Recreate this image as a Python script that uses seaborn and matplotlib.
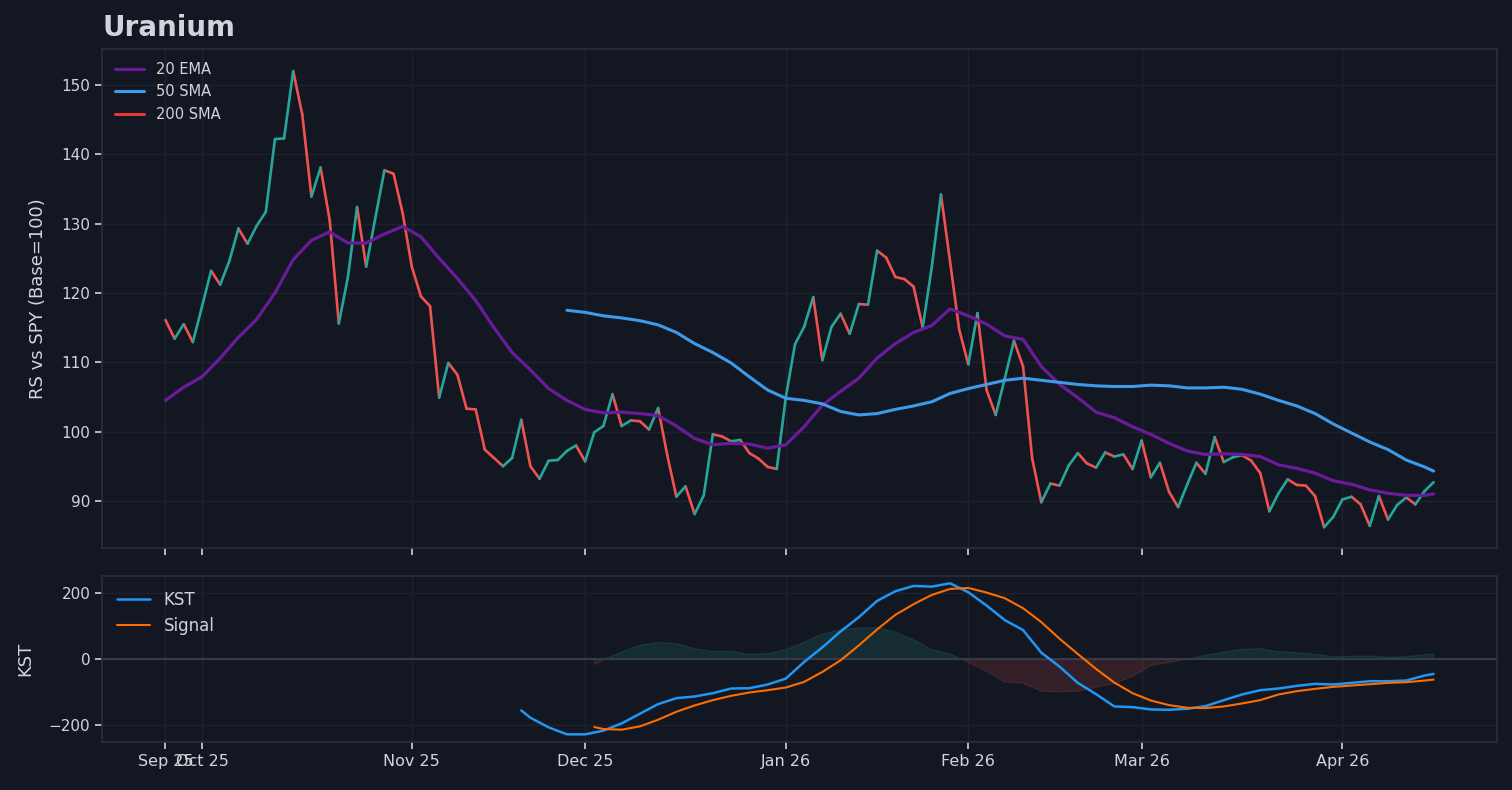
import numpy as np
import pandas as pd
import seaborn as sns
import matplotlib.pyplot as plt

# relative strength vs SPY, one value per trading day (index 0 = Sep 25 2025)
rs = [116.1, 113.4, 115.5, 112.9, 118.0, 123.2, 121.2, 124.6, 129.3, 127.1,
      129.7, 131.7, 142.2, 142.3, 152.0, 145.7, 133.9, 138.1, 130.5, 115.6,
      122.3, 132.4, 123.8, 130.8, 137.7, 137.2, 131.5, 123.8, 119.5, 118.1,
      104.9, 109.9, 108.2, 103.3, 103.2, 97.4, 96.2, 95.0, 96.2, 101.7,
      95.0, 93.2, 95.8, 95.9, 97.2, 98.0, 95.7, 99.9, 100.8, 105.4,
      100.8, 101.6, 101.5, 100.3, 103.4, 96.6, 90.6, 92.1, 88.1, 90.8,
      99.6, 99.3, 98.6, 98.8, 96.9, 96.1, 94.9, 94.6, 105.0, 112.6,
      115.1, 119.4, 110.3, 115.1, 117.0, 114.1, 118.4, 118.3, 126.1, 125.1,
      122.3, 122.0, 120.9, 115.0, 123.8, 134.2, 124.5, 114.7, 109.7, 117.1,
      106.0, 102.4, 107.7, 113.1, 109.4, 96.1, 89.8, 92.5, 92.2, 95.1,
      96.9, 95.4, 94.8, 97.0, 96.4, 96.7, 94.6, 98.7, 93.4, 95.5,
      91.3, 89.1, 92.4, 95.5, 93.9, 99.2, 95.6, 96.3, 96.6, 95.8,
      94.0, 88.5, 91.1, 93.1, 92.3, 92.2, 90.7, 86.2, 87.7, 90.2,
      90.6, 89.5, 86.4, 90.7, 87.3, 89.4, 90.5, 89.5, 91.4, 92.7]

ema_idx = list(range(0, 139, 2)) + [139]
ema20 = [104.5, 106.4, 107.9, 110.6, 113.6, 116.2, 120.0, 124.8, 127.6, 128.8,
         127.2, 127.2, 128.5, 129.6, 128.1, 125.0, 122.1, 118.9, 115.0, 111.4,
         108.9, 106.2, 104.5, 103.2, 102.7, 102.8, 102.6, 102.3, 100.8, 99.0,
         98.1, 98.3, 98.2, 97.6, 98.1, 100.7, 103.8, 105.8, 107.7, 110.6,
         112.7, 114.3, 115.3, 117.7, 116.7, 115.5, 113.8, 113.3, 109.4, 106.8,
         104.9, 102.8, 102.0, 100.7, 99.6, 98.3, 97.2, 96.7, 96.8, 96.7,
         96.4, 95.2, 94.7, 94.0, 92.9, 92.4, 91.6, 91.1, 90.8, 90.8, 91.0]

sma_idx = list(range(44, 139, 2)) + [139]
sma50 = [117.5, 117.2, 116.7, 116.4, 116.0, 115.4, 114.3, 112.7, 111.4, 109.9,
         107.9, 106.0, 104.8, 104.5, 104.0, 102.9, 102.4, 102.6, 103.2, 103.7,
         104.3, 105.5, 106.2, 106.8, 107.4, 107.7, 107.4, 107.1, 106.8, 106.6,
         106.5, 106.5, 106.7, 106.6, 106.3, 106.3, 106.4, 106.1, 105.4, 104.5,
         103.7, 102.6, 101.1, 99.8, 98.5, 97.4, 95.9, 94.9, 94.3]

sma200 = []

kst_idx = [39] + list(range(40, 139, 2)) + [139]
kst = [-155, -177, -206, -227, -227, -216, -194, -165, -136, -118,
       -113, -103, -89, -88, -77, -59, -9, 35, 83, 126,
       175, 204, 220, 218, 228, 201, 161, 117, 87, 19,
       -23, -72, -106, -143, -145, -152, -153, -150, -142, -124,
       -107, -94, -89, -81, -75, -77, -72, -67, -67, -65,
       -50, -45]

sig_idx = [47] + list(range(48, 139, 2)) + [139]
signal = [-205, -211, -213, -203, -183, -159, -140, -124, -111, -101,
          -94, -86, -69, -39, -4, 41, 89, 133, 165, 193,
          211, 214, 200, 183, 153, 111, 61, 15, -30, -71,
          -103, -125, -139, -147, -148, -143, -134, -124, -107, -97,
          -90, -84, -80, -76, -72, -70, -65, -62]

hist = [-17, -3, 21, 41, 50, 46, 31, 23, 23, 14,
        16, 28, 50, 75, 88, 93, 95, 81, 58, 28,
        15, -10, -37, -69, -73, -97, -99, -97, -85, -74,
        -52, -20, -10, -1, 11, 21, 29, 31, 22, 19,
        14, 7, 8, 9, 5, 7, 13, 15]

tick_idx = [0, 4, 27, 46, 68, 88, 107, 129]
tick_lbl = ['Sep 25', 'Oct 25', 'Nov 25', 'Dec 25', 'Jan 26', 'Feb 26', 'Mar 26', 'Apr 26']

BG = '#131722'
TXT = '#d1d4dc'
UP = '#26a69a'
DOWN = '#ef5350'

sns.set_theme(style='dark', rc={
    'figure.facecolor': BG, 'axes.facecolor': BG, 'axes.edgecolor': '#2a2e39',
    'axes.grid': True, 'grid.color': '#1e2230', 'grid.linewidth': 1.0,
    'text.color': TXT, 'axes.labelcolor': TXT,
    'xtick.color': TXT, 'ytick.color': TXT,
    'xtick.bottom': True, 'ytick.left': True,
    'xtick.major.size': 5, 'ytick.major.size': 5,
    'xtick.major.width': 1.2, 'ytick.major.width': 1.2,
    'axes.linewidth': 1.2,
})
plt.rcParams['font.family'] = ['DejaVu Sans']

fig = plt.figure(figsize=(15.12, 7.9), dpi=100)
ax = fig.add_axes([0.0675, 0.3063, 0.9226, 0.6317])
ax2 = fig.add_axes([0.0675, 0.0608, 0.9226, 0.2101], sharex=ax)

# RS line coloured per segment by direction
rows = []
for k in range(len(rs) - 1):
    d = 'up' if rs[k + 1] > rs[k] else 'down'
    rows.append((k, k, rs[k], d))
    rows.append((k, k + 1, rs[k + 1], d))
seg = pd.DataFrame(rows, columns=['seg', 'i', 'v', 'dir'])
sns.lineplot(data=seg, x='i', y='v', units='seg', hue='dir', estimator=None,
             palette={'up': UP, 'down': DOWN}, lw=1.9, legend=False, ax=ax)

sns.lineplot(x=ema_idx, y=ema20, color='#6a1b9a', lw=2.3, label='20 EMA', ax=ax)
sns.lineplot(x=sma_idx, y=sma50, color='#3d9be9', lw=2.2, label='50 SMA', ax=ax)
ax.plot(sma200, sma200, color='#e53935', lw=2.2, label='200 SMA')

ax.set_ylim(83.2, 155.2)
ax.set_yticks([90, 100, 110, 120, 130, 140, 150])
ax.set_ylabel('RS vs SPY (Base=100)', fontsize=13, labelpad=10)
ax.set_xlabel('')
ax.tick_params(labelbottom=False, labelsize=11)
ax.legend(loc='upper left', frameon=False, fontsize=10.5, labelcolor=TXT)
ax.set_title('Uranium', loc='left', fontsize=20, fontweight='bold', color=TXT, pad=9)

# KST panel
h = np.array(hist)
ax2.fill_between(sig_idx, 0, h, where=h >= 0, interpolate=True, color=UP, alpha=0.15)
ax2.fill_between(sig_idx, 0, h, where=h <= 0, interpolate=True, color=DOWN, alpha=0.15)
ax2.axhline(0, color='#363a45', lw=1.5)
sns.lineplot(x=kst_idx, y=kst, color='#2196f3', lw=1.8, label='KST', ax=ax2)
sns.lineplot(x=sig_idx, y=signal, color='#ff6d00', lw=1.5, label='Signal', ax=ax2)
ax2.set_ylim(-250, 250)
ax2.set_yticks([-200, 0, 200])
ax2.set_ylabel('KST', fontsize=13, labelpad=10)
ax2.set_xlabel('')
ax2.tick_params(labelsize=11)
ax2.legend(loc='upper left', frameon=False, fontsize=12, labelcolor=TXT)

ax2.set_xlim(-6.95, 145.95)
ax2.set_xticks(tick_idx)
ax2.set_xticklabels(tick_lbl, fontsize=11.5)

fig.savefig('out.png', dpi=100, facecolor=BG)
